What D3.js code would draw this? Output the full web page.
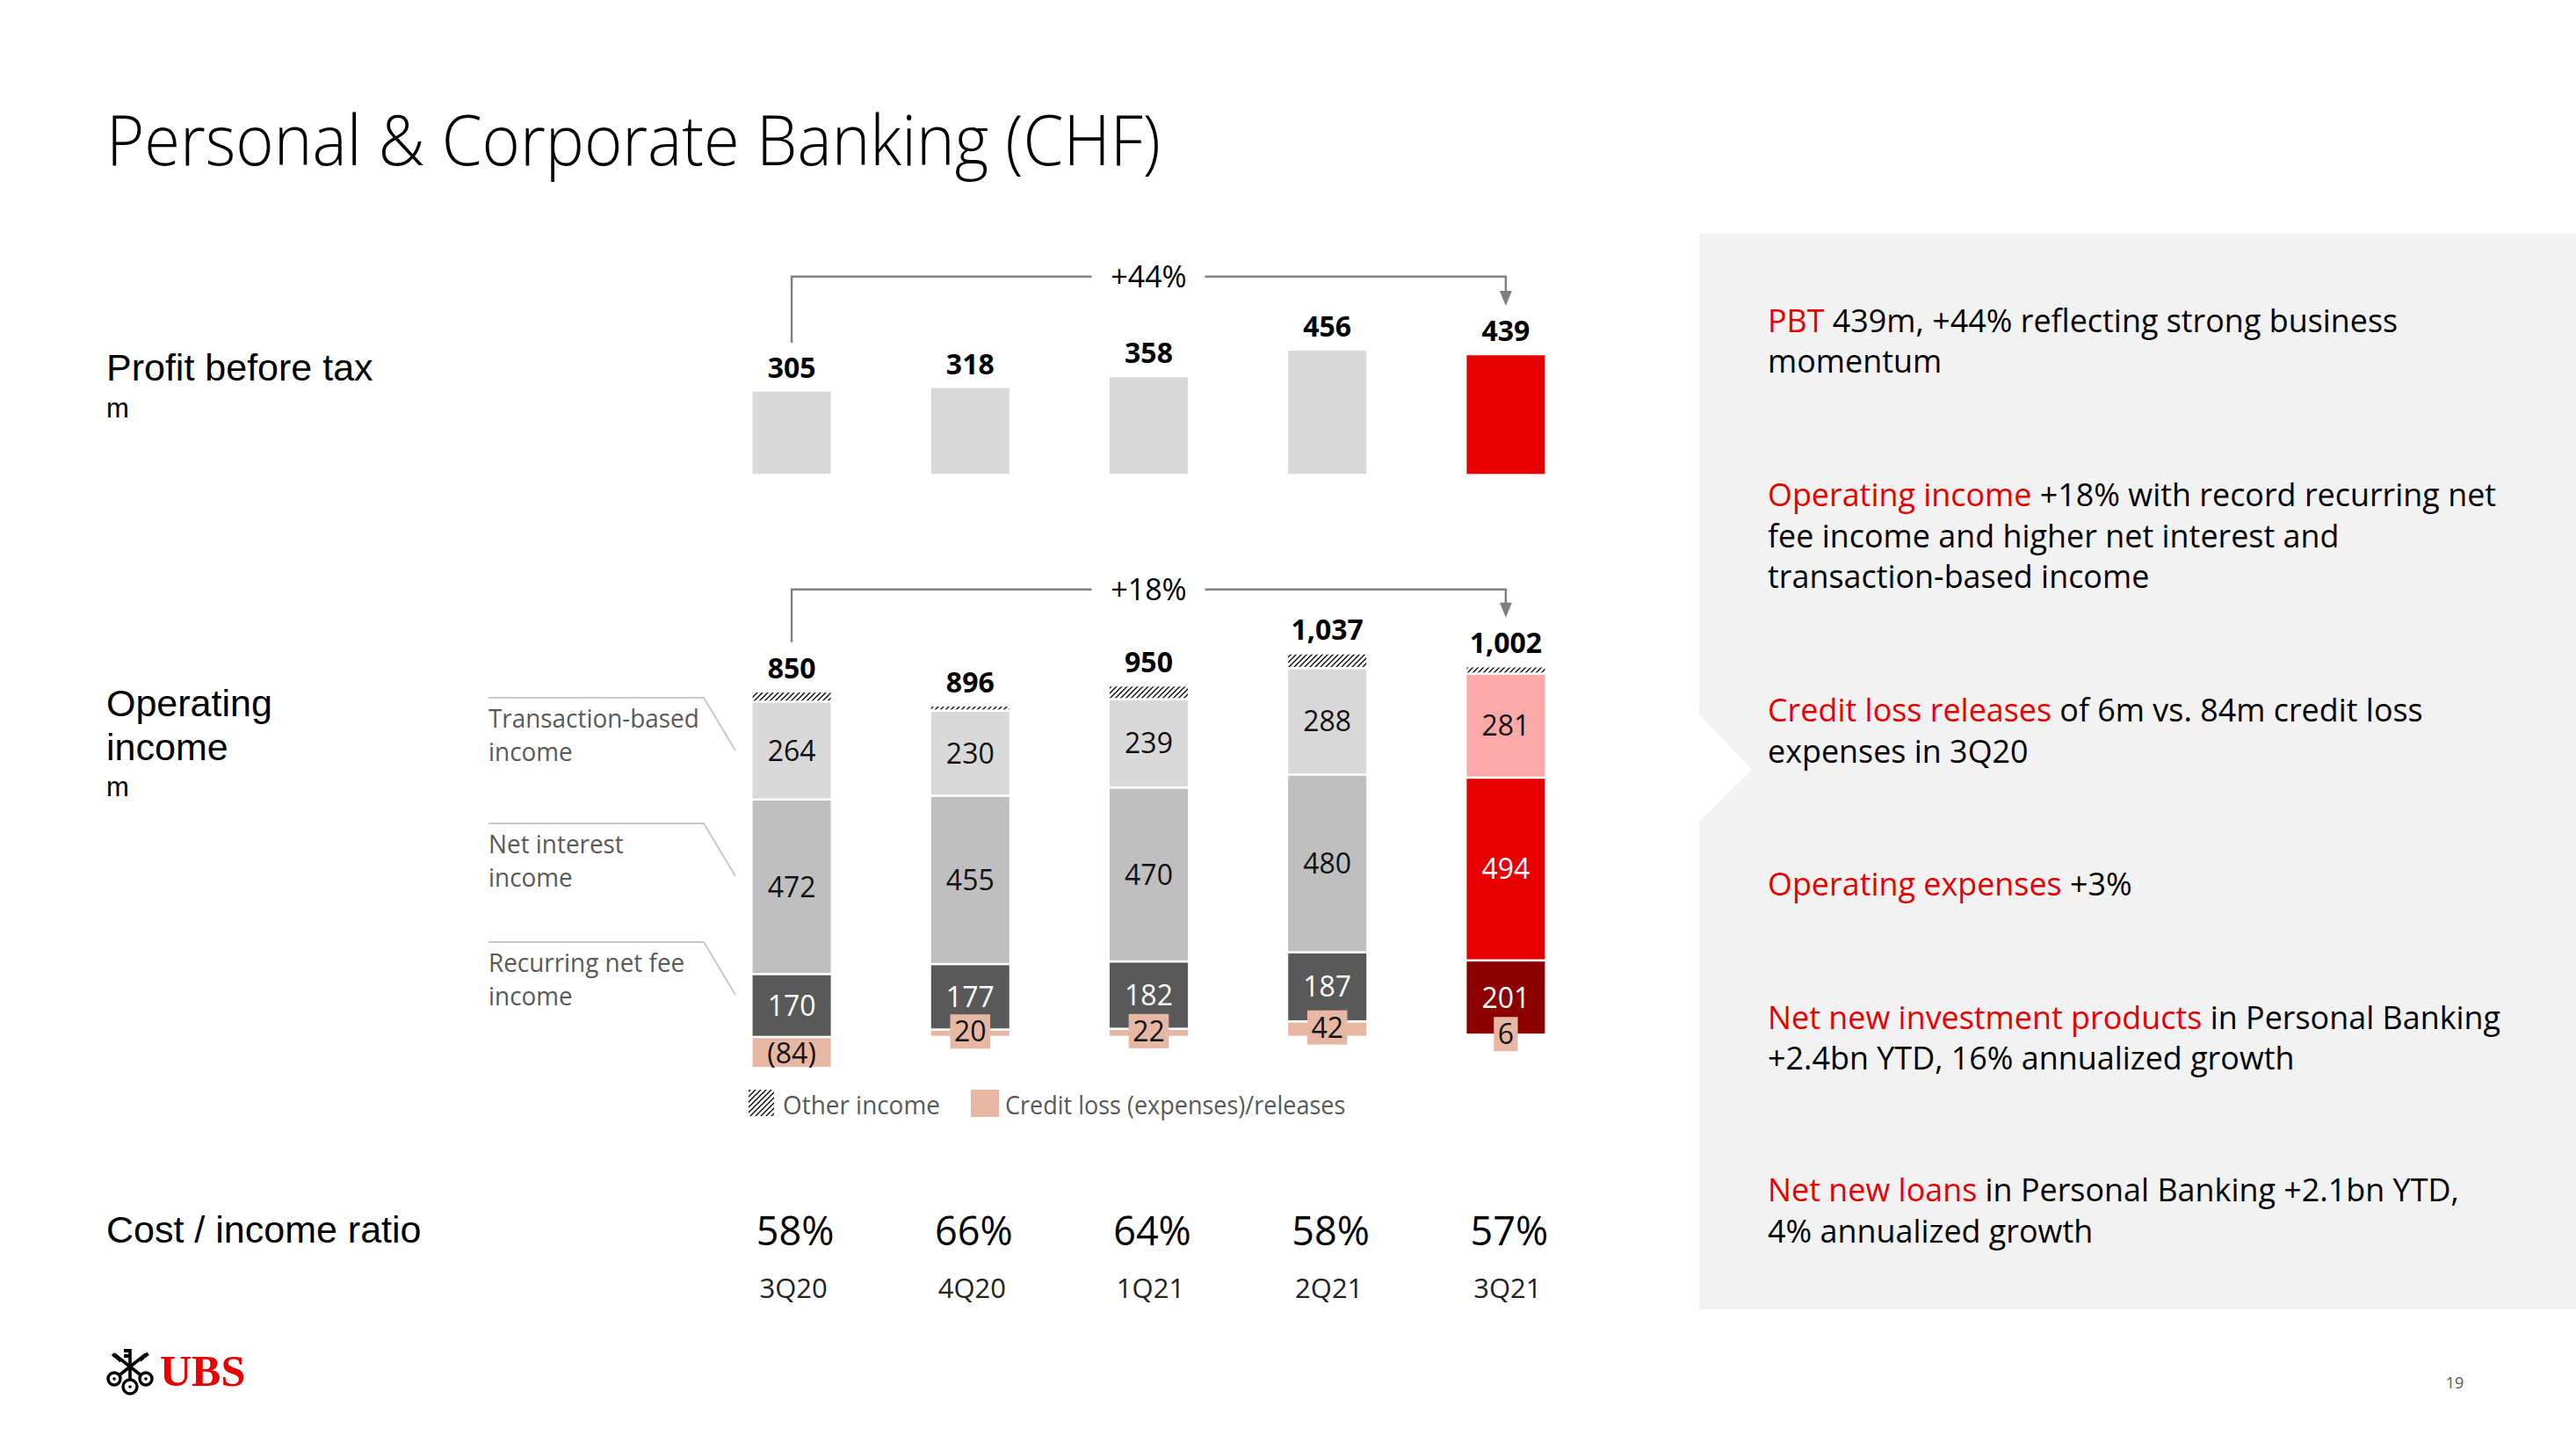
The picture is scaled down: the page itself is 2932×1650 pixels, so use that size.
<!DOCTYPE html>
<html><head><meta charset="utf-8">
<script src="https://cdn.jsdelivr.net/npm/d3@7"></script>
<style>
html,body{margin:0;padding:0;background:#fff;}
svg{display:block;font-family:"Open Sans","Noto Sans",sans-serif;}
</style></head><body>
<svg id="c" width="2932" height="1650"></svg>
<script>
// ---------- data ----------
const quarters = ["3Q20","4Q20","1Q21","2Q21","3Q21"];
const profitBeforeTax = [305,318,358,456,439];
const transactionBased = [264,230,239,288,281];
const netInterest = [472,455,470,480,494];
const recurringFee = [170,177,182,187,201];
const otherIncome = [28,14,37,40,20];
const creditLoss = [-84,20,22,42,6];
const operatingIncome = [850,896,950,1037,1002];
const costIncomeRatio = [58,66,64,58,57];
const pbtChange = "+44%";
const opChange = "+18%";
const segmentLabels = [["Transaction-based","income"],["Net interest","income"],["Recurring net fee","income"]];
const legendLabels = ["Other income","Credit loss (expenses)/releases"];
const rowLabels = [
  {lines:["Profit before tax"], y:433, unitY:475},
  {lines:["Operating","income"], y:815, unitY:906},
  {lines:["Cost / income ratio"], y:1414, unitY:null}
];
const commentary = [
  [[["PBT",1],["439m, +44% reflecting strong business",0]],[["momentum",0]]],
  [[["Operating income",1],["+18% with record recurring net",0]],[["fee income and higher net interest and",0]],[["transaction-based income",0]]],
  [[["Credit loss releases",1],["of 6m vs. 84m credit loss",0]],[["expenses in 3Q20",0]]],
  [[["Operating expenses",1],["+3%",0]]],
  [[["Net new investment products",1],["in Personal Banking",0]],[["+2.4bn YTD, 16% annualized growth",0]]],
  [[["Net new loans",1],["in Personal Banking +2.1bn YTD,",0]],[["4% annualized growth",0]]]
];

// ---------- styles ----------
const RED = "#e60000", GREY_LINE = "#808080", PINK = "#e6b8a4";
const normalCol = {tbi:"#d9d9d9", nii:"#bfbfbf", rnf:"#595959", credit:PINK};
const highCol = {tbi:"#fba8a8", nii:"#e60000", rnf:"#8c0000", credit:PINK};

const svg = d3.select("#c");
function condense(sel, f){
  sel.each(function(){
    const L = this.getComputedTextLength();
    if (L > 0){ this.setAttribute("textLength", (L*f).toFixed(1)); this.setAttribute("lengthAdjust","spacingAndGlyphs"); }
  });
  return sel;
}
function fitTo(sel, w){
  sel.attr("textLength", w).attr("lengthAdjust","spacingAndGlyphs");
  return sel;
}

// ---------- right panel ----------
svg.append("path")
  .attr("d","M1934,265.5 L2932,265.5 L2932,1490 L1934,1490 L1934,935 L1994,876 L1934,813 Z")
  .attr("fill","#f2f2f2");
const blockY = [377.7, 575.9, 820.9, 1019.1, 1170.6, 1366.9];
const panelF = 0.97, panelSize = 37;
commentary.forEach((block, bi) => {
  block.forEach((line, li) => {
    let xx = 2012;
    line.forEach(([s,red]) => {
      const t = svg.append("text").attr("x",xx).attr("y",blockY[bi] + li*46.7)
        .attr("font-size",panelSize).attr("fill", red ? RED : "#000").text(s);
      const L = t.node().getComputedTextLength();
      condense(t, panelF);
      xx += L*panelF + panelSize*0.25;
    });
  });
});

// ---------- title & row labels ----------
fitTo(svg.append("text").attr("x",121).attr("y",188).attr("font-size",80).attr("font-weight",300)
  .attr("fill","#000").text("Personal & Corporate Banking (CHF)"), 1200);
rowLabels.forEach(r => {
  r.lines.forEach((s,i) => svg.append("text").attr("x",121).attr("y", r.y + i*50)
    .attr("font-family","'Liberation Sans',Arial,sans-serif").attr("font-size",43).attr("fill","#000").text(s));
  if (r.unitY !== null) svg.append("text").attr("x",121).attr("y",r.unitY)
    .attr("font-family","'Liberation Sans',Arial,sans-serif").attr("font-size",31).attr("fill","#000").text("m");
});

// ---------- scales ----------
const x = d3.scaleBand().domain(quarters).range([799.5,1815.5]).paddingInner(0.562).paddingOuter(0.281);
const bw = x.bandwidth();
const cx = q => x(q) + bw/2;
const yPbt = d3.scaleLinear().domain([0,500]).range([539.3, 385.55]);
const yOp = d3.scaleLinear().domain([0,1000]).range([1180, 759]);

// ---------- hatch pattern ----------
const defs = svg.append("defs");
const pat = defs.append("pattern").attr("id","hatch").attr("patternUnits","userSpaceOnUse")
  .attr("width",6).attr("height",6);
pat.append("rect").attr("width",6).attr("height",6).attr("fill","#fff");
pat.append("path").attr("d","M-1,7 L7,-1 M-1,1 L1,-1 M5,7 L7,5").attr("stroke","#000").attr("stroke-width",1.3);

// ---------- bracket helper ----------
function bracket(yLine, yLeftEnd, yArrowTip, label){
  const x1 = cx(quarters[0]), x2 = cx(quarters[quarters.length-1]), xm = cx(quarters[2]);
  const g = svg.append("g");
  g.append("path").attr("d",`M${x1},${yLeftEnd} L${x1},${yLine} L${xm-65},${yLine} M${xm+64},${yLine} L${x2},${yLine} L${x2},${yArrowTip-14}`)
    .attr("fill","none").attr("stroke",GREY_LINE).attr("stroke-width",2.5);
  g.append("path").attr("d",`M${x2-7},${yArrowTip-17} L${x2+7},${yArrowTip-17} L${x2},${yArrowTip} Z`).attr("fill",GREY_LINE);
  g.append("text").attr("x",xm).attr("y",yLine+12).attr("text-anchor","middle").attr("font-size",34)
    .attr("fill","#000").text(label);
}

// ---------- PBT bars ----------
bracket(314.7, 390, 348, pbtChange);
svg.append("g").selectAll("rect").data(quarters).join("rect")
  .attr("x", d => x(d)).attr("width", bw)
  .attr("y", (d,i) => yPbt(profitBeforeTax[i]))
  .attr("height", (d,i) => yPbt(0) - yPbt(profitBeforeTax[i]))
  .attr("fill", (d,i) => i === quarters.length-1 ? RED : "#d9d9d9");
svg.append("g").selectAll("text").data(quarters).join("text")
  .attr("x", d => cx(d)).attr("y", (d,i) => yPbt(profitBeforeTax[i]) - 16)
  .attr("text-anchor","middle").attr("font-size",32).attr("font-weight",700).attr("fill","#000")
  .text((d,i) => d3.format(",")(profitBeforeTax[i]));

// ---------- Operating income stacked bars ----------
bracket(670.7, 730.7, 702.7, opChange);
const gap = 1.3;
quarters.forEach((q,i) => {
  const col = i === quarters.length-1 ? highCol : normalCol;
  const segs = [];
  let base = 0;
  if (creditLoss[i] > 0){ segs.push({k:"credit", y0:0, y1:creditLoss[i]}); base = creditLoss[i]; }
  segs.push({k:"rnf", y0:base, y1:base+recurringFee[i], v:recurringFee[i]}); base += recurringFee[i];
  segs.push({k:"nii", y0:base, y1:base+netInterest[i], v:netInterest[i]}); base += netInterest[i];
  segs.push({k:"tbi", y0:base, y1:base+transactionBased[i], v:transactionBased[i]}); base += transactionBased[i];
  segs.push({k:"other", y0:base, y1:base+otherIncome[i]}); base += otherIncome[i];
  if (creditLoss[i] < 0) segs.push({k:"creditNeg", y0:creditLoss[i], y1:0});
  const g = svg.append("g");
  segs.forEach(s => {
    const top = yOp(s.y1) + gap, bot = yOp(s.y0) - gap;
    g.append("rect").attr("x",x(q)).attr("width",bw).attr("y",top).attr("height",Math.max(0,bot-top))
      .attr("fill", s.k==="other" ? "url(#hatch)" : (s.k==="creditNeg" ? PINK : col[s.k]));
    if (s.v !== undefined){
      const white = s.k==="rnf" || (s.k==="nii" && i===quarters.length-1);
      g.append("text").attr("x",cx(q)).attr("y",(yOp(s.y0)+yOp(s.y1))/2 + 11.5)
        .attr("text-anchor","middle").attr("font-size",32).attr("fill", white ? "#fff" : "#111")
        .text(s.v);
    }
  });
  const cl = creditLoss[i];
  const cy = (yOp(0) + yOp(cl))/2 + (cl < 0 ? 1 : -2);
  const lbl = cl < 0 ? `(${-cl})` : `${cl}`;
  const t = g.append("text").attr("x",cx(q)).attr("y",cy + 11.5).attr("text-anchor","middle")
    .attr("font-size",32).attr("fill","#111").text(lbl);
  if (cl > 0){
    const w = t.node().getComputedTextLength() + 9;
    g.insert("rect","text:last-child").attr("x",cx(q)-w/2).attr("width",w).attr("y",cy-19.5).attr("height",39).attr("fill",PINK);
  }
  g.append("text").attr("x",cx(q)).attr("y",yOp(base) - 15).attr("text-anchor","middle")
    .attr("font-size",32).attr("font-weight",700).attr("fill","#000").text(d3.format(",")(operatingIncome[i]));
});

// segment name labels with connectors
const labY = [794, 937, 1072];
segmentLabels.forEach((lines,j) => {
  svg.append("path").attr("d",`M556,${labY[j]} L801,${labY[j]} L837,${labY[j]+60}`)
    .attr("fill","none").attr("stroke","#c8c8c8").attr("stroke-width",2);
  lines.forEach((s,li) => condense(svg.append("text").attr("x",556).attr("y",labY[j]+34+li*37.5)
    .attr("font-size",29.5).attr("fill","#595959").text(s), 0.945));
});

// legend
svg.append("rect").attr("x",852).attr("y",1240).attr("width",29).attr("height",30).attr("fill","url(#hatch)");
condense(svg.append("text").attr("x",891).attr("y",1268).attr("font-size",30).attr("fill","#595959").text(legendLabels[0]),0.93);
svg.append("rect").attr("x",1105).attr("y",1240).attr("width",32).attr("height",31).attr("fill",PINK);
condense(svg.append("text").attr("x",1144).attr("y",1268).attr("font-size",30).attr("fill","#595959").text(legendLabels[1]),0.90);

// cost / income ratio + quarter axis
svg.append("g").selectAll("text").data(quarters).join("text")
  .attr("x", d => cx(d) + 4).attr("y",1417).attr("text-anchor","middle").attr("font-size",45).attr("fill","#000")
  .text((d,i) => costIncomeRatio[i] + "%");
const axisG = svg.append("g").attr("transform","translate(0,1448)")
  .call(d3.axisBottom(x).tickSize(0).tickPadding(0));
axisG.select(".domain").remove();
axisG.selectAll("text").attr("font-size",31).attr("fill","#222").attr("font-family","'Open Sans',sans-serif")
  .attr("dy","0").attr("y",29).attr("x",2);

// page number
svg.append("text").attr("x",2794).attr("y",1580).attr("text-anchor","middle").attr("font-size",18).attr("fill","#595959").text("19");

// ---------- UBS logo ----------
const logo = svg.append("g").attr("transform","translate(122,1533)");
function key(x1,y1,x2,y2){
  logo.append("line").attr("x1",x1).attr("y1",y1).attr("x2",x2).attr("y2",y2)
    .attr("stroke","#000").attr("stroke-width",3.6);
}
key(26,2,26,38); key(41,34,8,8); key(11,34,44,8);
[[26,4],[26,10]].forEach(([a,b])=>logo.append("rect").attr("x",a-7).attr("y",b-2).attr("width",7).attr("height",4).attr("fill","#000"));
[[10,11],[15,15]].forEach(([a,b])=>logo.append("rect").attr("x",a-5).attr("y",b-2).attr("width",6).attr("height",4).attr("fill","#000").attr("transform",`rotate(40,${a},${b})`));
[[42,11],[37,15]].forEach(([a,b])=>logo.append("rect").attr("x",a).attr("y",b-2).attr("width",6).attr("height",4).attr("fill","#000").attr("transform",`rotate(-40,${a},${b})`));
[[8,36,7],[26,45,8],[44,36,7]].forEach(([a,b,r])=>{
  logo.append("circle").attr("cx",a).attr("cy",b).attr("r",r).attr("fill","#fff").attr("stroke","#000").attr("stroke-width",3.4);
  logo.append("circle").attr("cx",a).attr("cy",b).attr("r",1.8).attr("fill","#000");
});
svg.append("text").attr("x",182).attr("y",1577).attr("font-family","'Liberation Serif',serif").attr("font-weight",700)
  .attr("font-size",50).attr("fill",RED).text("UBS");
</script>
</body></html>
